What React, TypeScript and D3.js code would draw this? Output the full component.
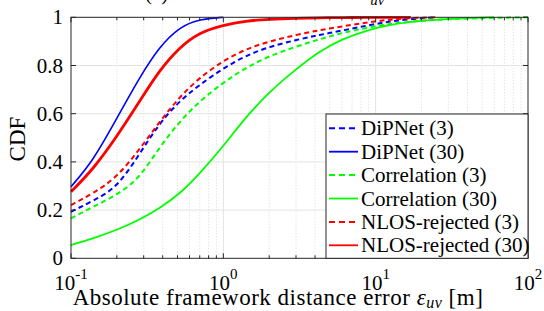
import * as d3 from "d3";

// shared error grid (m) and CDF values; each series stops where it reaches 1
const errs = [0.1, 0.14, 0.2, 0.28, 0.38, 0.52, 0.7, 1, 1.4, 2, 3, 4.3, 6, 8.7, 12, 17, 25, 40, 60, 100];
const dipnet3 = [0.193, 0.239, 0.292, 0.43, 0.56, 0.655, 0.72, 0.789, 0.84, 0.878, 0.906, 0.927, 0.945, 0.965, 0.982, 0.993, 1];
const dipnet30 = [0.297, 0.405, 0.581, 0.747, 0.878, 0.962, 0.993, 1];
const corr3 = [0.166, 0.214, 0.263, 0.33, 0.46, 0.57, 0.652, 0.73, 0.79, 0.84, 0.878, 0.91, 0.935, 0.957, 0.972, 0.982, 0.99, 0.995, 0.998, 1];
const corr30 = [0.055, 0.083, 0.117, 0.159, 0.207, 0.268, 0.352, 0.465, 0.585, 0.69, 0.785, 0.86, 0.91, 0.945, 0.968, 0.982, 0.991, 0.997, 1];
const nlos3 = [0.221, 0.27, 0.335, 0.45, 0.565, 0.672, 0.75, 0.82, 0.868, 0.9, 0.927, 0.947, 0.962, 0.978, 0.99, 0.997, 1];
const nlos30 = [0.276, 0.37, 0.505, 0.648, 0.78, 0.878, 0.938, 0.968, 0.985, 0.992, 0.996, 0.998, 0.999, 0.9995, 0.9998, 1];

const seriesNames = ["DiPNet (3)", "DiPNet (30)", "Correlation (3)", "Correlation (30)", "NLOS-rejected (3)", "NLOS-rejected (30)"];
const seriesVals = [dipnet3, dipnet30, corr3, corr30, nlos3, nlos30];
const seriesColors = ["#0000ff", "#0000ff", "#00ff00", "#00ff00", "#ff0000", "#ff0000"];
const seriesDashed = [true, false, true, false, true, false];
const seriesWidth = [2, 1.6, 2, 1.8, 2, 2.8];

const yTicks = [0, 0.2, 0.4, 0.6, 0.8, 1];
const xTicks = [0.1, 1, 10, 100];
const xTickExp = ["-1", "0", "1", "2"];

const FONT = "'Liberation Serif', 'Times New Roman', serif";

const App = () => {
  const left = 71, right = 528, top = 17.3, bottom = 258.3;
  const x = d3.scaleLog().domain([0.1, 100]).range([left, right]);
  const y = d3.scaleLinear().domain([0, 1]).range([bottom, top]);

  const minor: number[] = [];
  [0.1, 1, 10].forEach(d => { for (let k = 2; k <= 9; k++) minor.push(d * k); });

  const line = d3.line<[number, number]>()
    .x(d => x(d[0]))
    .y(d => y(d[1]))
    .curve(d3.curveBasis);

  const axisCol = "#262626";
  const legTop = 114, legStep = 23.4;

  return (
    <svg width={544} height={311} style={{ position: "absolute", left: 0, top: 0, fontFamily: FONT }}>
      <rect width={544} height={311} fill="#fff" />
      {/* title, mostly cut off at the top */}
      <text x={145} y={0} fontSize={21} fill="#000">
        (a) Overall distance error <tspan fontStyle="italic">ε</tspan>
        <tspan fontStyle="italic" fontSize={15} dy={5}>uv</tspan>
      </text>
      {/* grid */}
      {minor.map((m, i) => (
        <line key={"mg" + i} x1={x(m)} x2={x(m)} y1={top} y2={bottom} stroke="#cfcfcf" strokeWidth={0.8} strokeDasharray="1,2" />
      ))}
      {xTicks.slice(1, 3).map((t, i) => (
        <line key={"xg" + i} x1={x(t)} x2={x(t)} y1={top} y2={bottom} stroke="#e3e3e3" strokeWidth={1} />
      ))}
      {yTicks.slice(1, 5).map((t, i) => (
        <line key={"yg" + i} x1={left} x2={right} y1={y(t)} y2={y(t)} stroke="#e3e3e3" strokeWidth={1} />
      ))}
      {/* curves */}
      {seriesVals.map((vals, i) => (
        <path key={"s" + i}
          d={line(vals.map((v, j) => [errs[j], v] as [number, number])) || ""}
          fill="none" stroke={seriesColors[i]} strokeWidth={seriesWidth[i]}
          strokeDasharray={seriesDashed[i] ? "5,3.5" : undefined} />
      ))}
      {/* ticks */}
      {minor.map((m, i) => (
        <g key={"mt" + i}>
          <line x1={x(m)} x2={x(m)} y1={bottom} y2={bottom - 3} stroke={axisCol} />
          <line x1={x(m)} x2={x(m)} y1={top} y2={top + 3} stroke={axisCol} />
        </g>
      ))}
      {xTicks.map((t, i) => (
        <g key={"xt" + i}>
          <line x1={x(t)} x2={x(t)} y1={bottom} y2={bottom - 5} stroke={axisCol} />
          <line x1={x(t)} x2={x(t)} y1={top} y2={top + 5} stroke={axisCol} />
          <text x={x(t)} y={290} fontSize={21} textAnchor="middle" fill="#000">
            10<tspan fontSize={15} dy={-11}>{xTickExp[i]}</tspan>
          </text>
        </g>
      ))}
      {yTicks.map((t, i) => (
        <g key={"yt" + i}>
          <line x1={left} x2={left + 5} y1={y(t)} y2={y(t)} stroke={axisCol} />
          <line x1={right} x2={right - 5} y1={y(t)} y2={y(t)} stroke={axisCol} />
          <text x={63} y={y(t) + 7} fontSize={21} textAnchor="end" fill="#000">{String(t)}</text>
        </g>
      ))}
      <rect x={left} y={top} width={right - left} height={bottom - top} fill="none" stroke={axisCol} strokeWidth={1} />
      {/* legend */}
      <rect x={326} y={legTop} width={right - 326} height={bottom - legTop} fill="#fff" stroke={axisCol} strokeWidth={1} />
      {seriesNames.map((n, i) => {
        const cy = legTop + 14.3 + i * legStep;
        return (
          <g key={"lg" + i}>
            <line x1={329} x2={358} y1={cy} y2={cy} stroke={seriesColors[i]}
              strokeWidth={seriesDashed[i] ? 2 : 1.8}
              strokeDasharray={seriesDashed[i] ? "6,4" : undefined} />
            <text x={361} y={cy + 7} fontSize={21} fill="#000">{n}</text>
          </g>
        );
      })}
      {/* axis labels */}
      <text x={278} y={305} fontSize={23} letterSpacing={0.5} textAnchor="middle" fill="#000">
        Absolute framework distance error <tspan fontStyle="italic">ε</tspan>
        <tspan fontStyle="italic" fontSize={16} dy={3}>uv</tspan>
        <tspan dy={-3}> [m]</tspan>
      </text>
      <text transform="translate(25,139) rotate(-90)" fontSize={23} textAnchor="middle" fill="#000">CDF</text>
    </svg>
  );
};

export default App;
